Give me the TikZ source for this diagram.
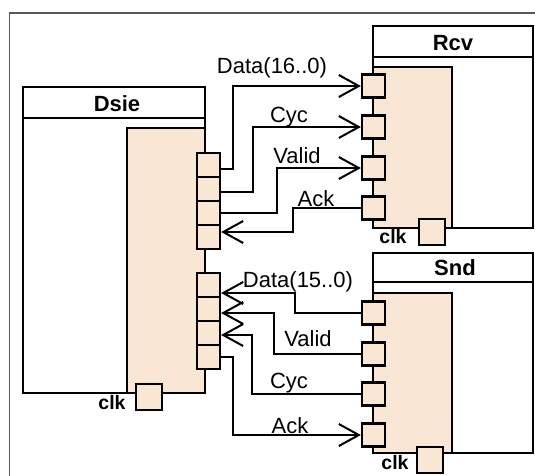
\documentclass[tikz,border=0pt]{standalone}
\usepackage{fontspec}
\setmainfont{Liberation Sans}
\usetikzlibrary{arrows.meta}
\definecolor{peach}{RGB}{250,230,212}
\definecolor{framegray}{RGB}{90,90,90}
\begin{document}
\begin{tikzpicture}[x=1pt,y=-1pt,
  box/.style={draw=black,line width=2.6pt},
  port/.style={draw=black,fill=peach,line width=2.2pt,minimum width=23pt,minimum height=23pt,inner sep=0pt},
  clkport/.style={port,minimum width=26pt,minimum height=26pt},
  conn/.style={draw=black,line width=2pt},
  arr/.style={-{Straight Barb[length=20pt,width=22pt]}},
  lbl/.style={font=\fontsize{22}{25}\selectfont,inner sep=0pt},
  ttl/.style={font=\bfseries\fontsize{22}{25}\selectfont,inner sep=0pt},
  clklbl/.style={font=\bfseries\fontsize{19.5}{22}\selectfont,inner sep=0pt}]
\useasboundingbox (0,0) rectangle (535,475);
% frame
\draw[framegray,line width=1.4pt] (9.5,476) -- (9.5,13) -- (536,13);

% Dsie
\fill[peach] (127,128) rectangle (205,393);
\draw[box] (23,87) rectangle (205,393);
\draw[box] (23,118) -- (205,118);
\draw[box] (127,393) -- (127,128) -- (205,128);
\node[ttl] (tDsie) at (117,104) {Dsie};

% Rcv
\fill[peach] (373,67) rectangle (452,228);
\draw[box] (373,26) rectangle (533,228);
\draw[box] (373,57) -- (533,57);
\draw[box] (373,67) -- (452,67) -- (452,228);
\node[ttl] (tRcv) at (453,43) {Rcv};

% Snd
\fill[peach] (373,293) rectangle (452,453);
\draw[box] (373,253) rectangle (533,453);
\draw[box] (373,282) -- (533,282);
\draw[box] (373,293) -- (452,293) -- (452,453);
\node[ttl] (tSnd) at (455,268) {Snd};

% Dsie ports
\node[port,minimum height=24pt] (dp1) at (208.5,165) {};
\node[port,minimum height=24pt] (dp2) at (208.5,189) {};
\node[port,minimum height=24pt] (dp3) at (208.5,213) {};
\node[port,minimum height=24pt] (dp4) at (208.5,237) {};
\node[port,minimum height=24pt] (dq1) at (208.5,285) {};
\node[port,minimum height=24pt] (dq2) at (208.5,309) {};
\node[port,minimum height=24pt] (dq3) at (208.5,333) {};
\node[port,minimum height=24pt] (dq4) at (208.5,357) {};
\node[clkport] (dclk) at (149,397) {};
\node[clklbl] (ldclk) at (112,403) {clk};

% Rcv ports
\node[port] (rp1) at (373.5,86) {};
\node[port] (rp2) at (373.5,127) {};
\node[port] (rp3) at (373.5,168) {};
\node[port] (rp4) at (373.5,208) {};
\node[clkport] (rclk) at (432,232) {};
\node[clklbl] (lrclk) at (393,237) {clk};

% Snd ports
\node[port] (sp1) at (373.5,313) {};
\node[port] (sp2) at (373.5,354) {};
\node[port] (sp3) at (373.5,394) {};
\node[port] (sp4) at (373.5,435) {};
\node[clkport] (sclk) at (430,460) {};
\node[clklbl] (lsclk) at (395,463) {clk};

% upper connectors
\draw[conn,arr] ([yshift=-4pt]dp1.east) -- ++(12,0) |- (rp1.west);
\draw[conn,arr] ([yshift=-3pt]dp2.east) -- ++(32,0) |- (rp2.west);
\draw[conn,arr] (dp3.east) -- ++(56,0) |- (rp3.west);
\draw[conn,arr] (rp4.west) -- ++(-68,0) |- ([yshift=5pt]dp4.east);

% lower connectors
\draw[conn,arr] (sp1.west) -- ++(-66,0) |- ([yshift=-8pt]dq1.east);
\draw[conn,arr] (sp2.west) -- ++(-87,0) |- ([yshift=-4pt]dq2.east);
\draw[conn,arr] (sp3.west) -- ++(-109,0) |- ([yshift=-2pt]dq3.east);
\draw[conn,arr] (dq4.east) -- ++(12,0) |- (sp4.west);

% labels
\node[lbl] (l1) at (272,68) {Data(16..0)};
\node[lbl] (l2) at (289,117) {Cyc};
\node[lbl] (l3) at (297,156) {Valid};
\node[lbl] (l4) at (316,199) {Ack};
\node[lbl] (l5) at (298,282) {Data(15..0)};
\node[lbl] (l6) at (308,339) {Valid};
\node[lbl] (l7) at (289,383) {Cyc};
\node[lbl] (l8) at (290,426) {Ack};
\end{tikzpicture}
\end{document}
